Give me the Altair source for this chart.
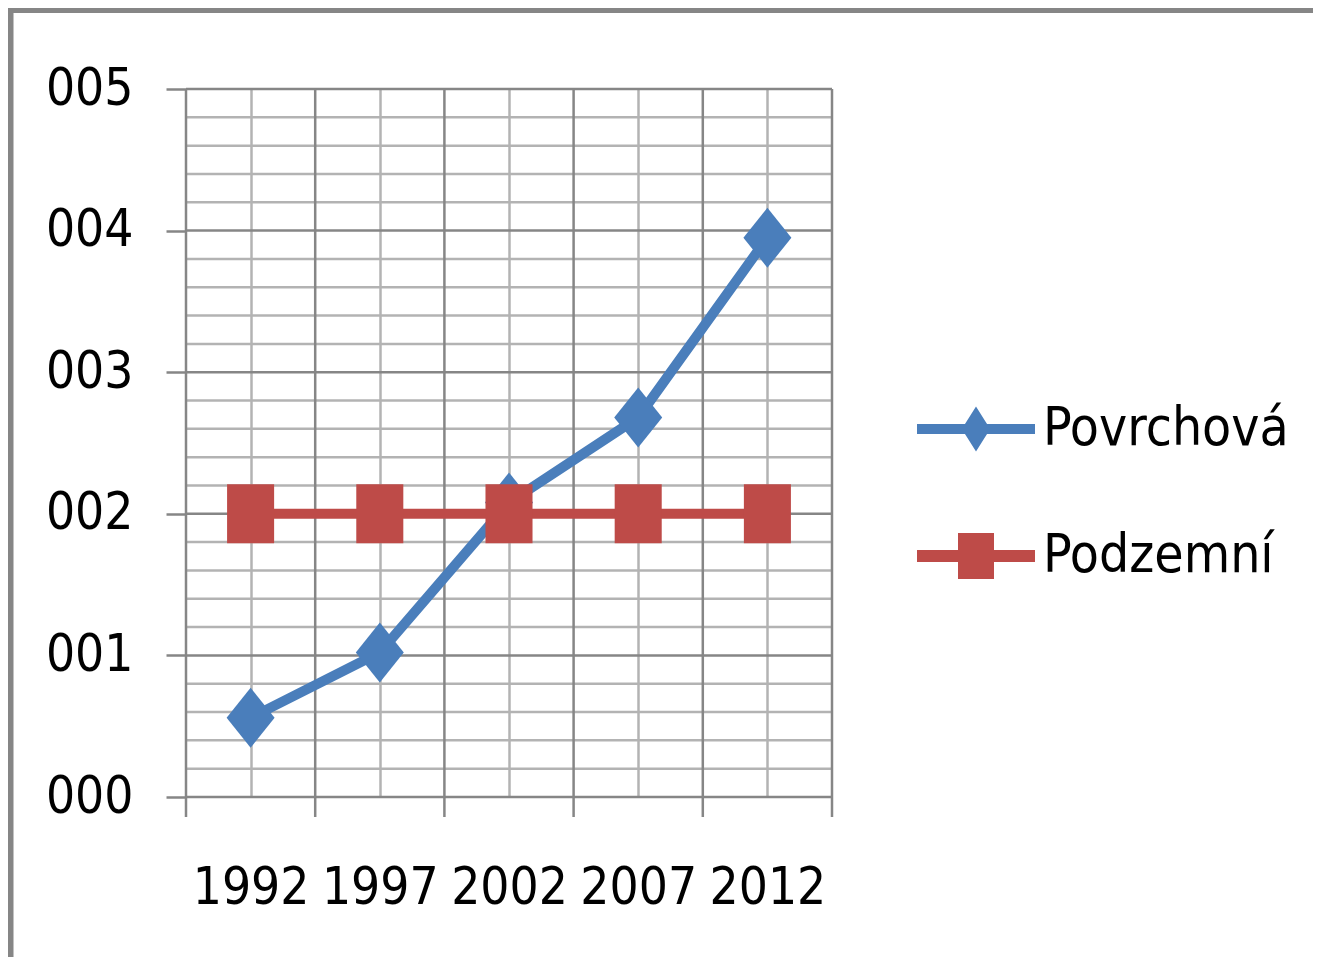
import altair as alt
import pandas as pd

# ---- data ----
years = [1992, 1997, 2002, 2007, 2012]
povrchova = [0.56, 1.02, 2.08, 2.68, 3.95]
podzemni = [2.0, 2.0, 2.0, 2.0, 2.0]
series_names = ["Povrchová", "Podzemní"]
y_ticks = [0, 1, 2, 3, 4, 5]
y_minor = [0.2, 0.4, 0.6, 0.8, 1.2, 1.4, 1.6, 1.8, 2.2, 2.4, 2.6, 2.8,
           3.2, 3.4, 3.6, 3.8, 4.2, 4.4, 4.6, 4.8]
x_bounds = [1989.5, 1994.5, 1999.5, 2004.5, 2009.5, 2014.5]

# ---- styling ----
FONT = "Liberation Sans Narrow, DejaVu Sans Condensed, Liberation Sans, sans-serif"
BLUE = "#4A7EBB"
RED = "#BE4B48"
MAJOR = "#868686"
MINOR = "#B3B3B3"
W, H = 646, 708
AXIS_FS = 51
LEG_FS = 53
colors = [BLUE, RED]
plot_shapes = ["M0,-1.25L1,0L0,1.25L-1,0Z",
               "M-0.98,-1.23L0.98,-1.23L0.98,1.23L-0.98,1.23Z"]
legend_shapes = ["M-1,-0.085L1,-0.085L1,0.085L-1,0.085Z M0,-0.38L0.24,0L0,0.38L-0.24,0Z",
                 "M-1,-0.1L1,-0.1L1,0.1L-1,0.1Z M-0.305,-0.39L0.305,-0.39L0.305,0.39L-0.305,0.39Z"]

rows = []
for y, v in zip(years, povrchova):
    rows.append({"year": y, "value": v, "series": series_names[0]})
for y, v in zip(years, podzemni):
    rows.append({"year": y, "value": v, "series": series_names[1]})
df = pd.DataFrame(rows)

xscale = alt.Scale(domain=[x_bounds[0], x_bounds[-1]], nice=False, zero=False)
yscale = alt.Scale(domain=[0, 5], nice=False)

x_enc = alt.X("year:Q", scale=xscale,
              axis=alt.Axis(values=years, format="d", title=None, grid=True,
                            gridColor=MINOR, gridWidth=2.5, ticks=False, domain=False,
                            labelFontSize=AXIS_FS, labelFont=FONT, labelColor="#000000",
                            labelPadding=66, labelFlush=False, labelOverlap=False))
y_enc = alt.Y("value:Q", scale=yscale,
              axis=alt.Axis(values=y_ticks, format="03d", title=None, grid=False,
                            ticks=True, tickSize=20, tickColor=MAJOR, tickWidth=2.5,
                            domain=False, labelFontSize=AXIS_FS, labelFont=FONT,
                            labelColor="#000000", labelPadding=33, labelOverlap=False))

color_plot = alt.Color("series:N", scale=alt.Scale(domain=series_names, range=colors), legend=None)

# minor horizontal grid
minor_h = alt.Chart(pd.DataFrame({"y": y_minor, "x0": x_bounds[0], "x1": x_bounds[-1]})).mark_rule(
    color=MINOR, strokeWidth=2.5).encode(
    x=alt.X("x0:Q", scale=xscale), x2="x1:Q", y=alt.Y("y:Q", scale=yscale))

major_h = alt.Chart(pd.DataFrame({"y": y_ticks, "x0": x_bounds[0], "x1": x_bounds[-1]})).mark_rule(
    color=MAJOR, strokeWidth=2.5).encode(
    x=alt.X("x0:Q", scale=xscale), x2="x1:Q", y=alt.Y("y:Q", scale=yscale))

major_v = alt.Chart(pd.DataFrame({"x": x_bounds})).mark_rule(
    color=MAJOR, strokeWidth=2.5).encode(
    x=alt.X("x:Q", scale=xscale), y=alt.value(0), y2=alt.value(H + 20))

base = alt.Chart(df)
lines = base.mark_line(strokeWidth=10).encode(
    x=x_enc, y=y_enc, color=color_plot,
    order="year:Q")

points = base.mark_point(filled=True, opacity=1, size=2304, strokeWidth=0).encode(
    x=alt.X("year:Q", scale=xscale), y=alt.Y("value:Q", scale=yscale),
    color=color_plot,
    shape=alt.Shape("series:N", scale=alt.Scale(domain=series_names, range=plot_shapes), legend=None))

legend_layer = base.transform_filter("false").mark_point(
    filled=True, opacity=1, size=13924, strokeWidth=0).encode(
    x=alt.X("year:Q", scale=xscale), y=alt.Y("value:Q", scale=yscale),
    color=alt.Color("series:N", scale=alt.Scale(domain=series_names, range=colors),
                    legend=alt.Legend(title=None, orient="none", legendX=731, legendY=281,
                                      symbolSize=13924, symbolStrokeWidth=0, symbolOpacity=1,
                                      labelFont=FONT, labelFontSize=LEG_FS, labelColor="#000000",
                                      labelLimit=500, labelOffset=8, rowPadding=41,
                                      padding=0)),
    shape=alt.Shape("series:N", scale=alt.Scale(domain=series_names, range=legend_shapes)))

frame_top = alt.Chart(pd.DataFrame({"a": [0]})).mark_rule(color=MAJOR, strokeWidth=6).encode(
    x=alt.value(-178), x2=alt.value(1135), y=alt.value(-79))
frame_left = alt.Chart(pd.DataFrame({"a": [0]})).mark_rule(color=MAJOR, strokeWidth=6).encode(
    x=alt.value(-175.5), y=alt.value(-82), y2=alt.value(880))

chart = alt.layer(
    minor_h, major_h, major_v, lines, points, legend_layer, frame_top, frame_left
).resolve_scale(
    color="independent", shape="independent"
).properties(
    width=W, height=H,
    autosize=alt.AutoSizeParams(type="none"),
    padding={"left": 178, "top": 81, "right": 481, "bottom": 160},
    background="#FFFFFF"
).configure_view(stroke=None)

chart.save("out.html", embed_options={"renderer": "svg", "actions": False})
